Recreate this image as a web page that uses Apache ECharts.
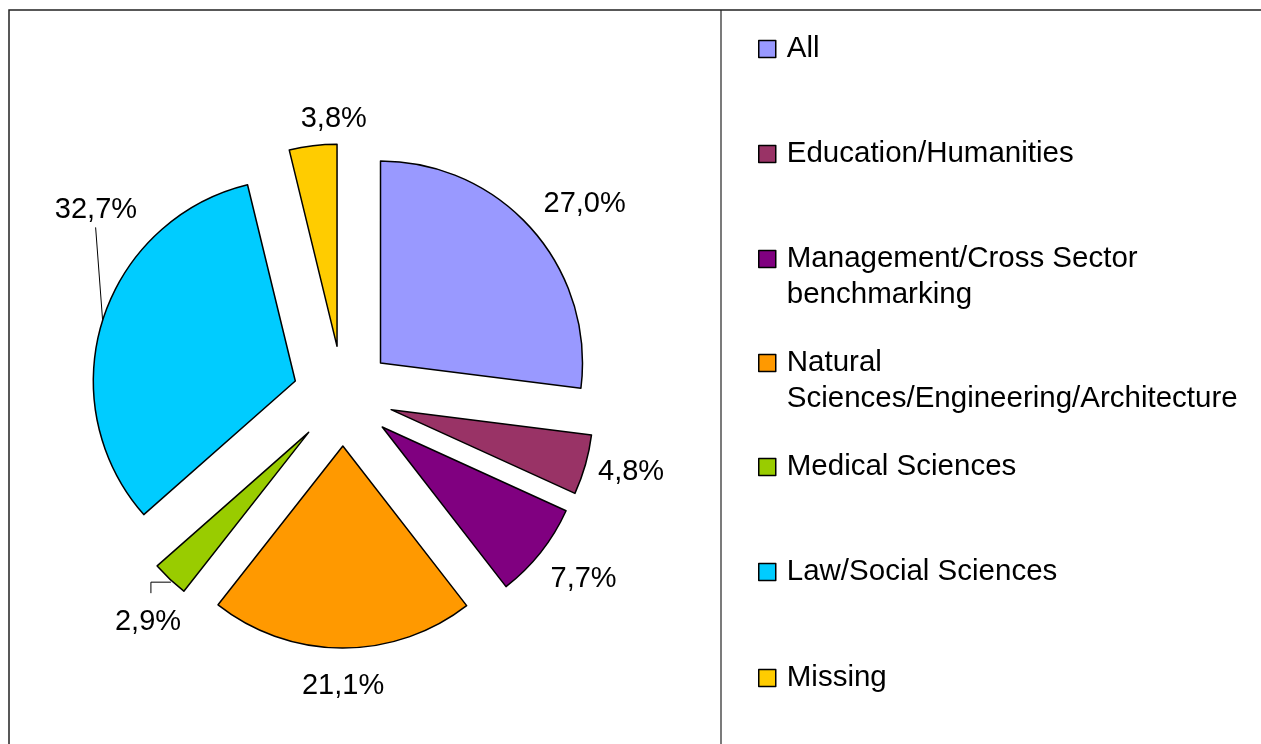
<!DOCTYPE html>
<html>
<head>
<meta charset="utf-8">
<title>Pie</title>
<script src="https://cdn.jsdelivr.net/npm/echarts@6/dist/echarts.min.js"></script>
<style>
  html, body { margin: 0; padding: 0; background: #fff; }
  #chart { width: 1261px; height: 744px; }
</style>
</head>
<body>
<div id="chart"></div>
<script>
// categories and shares (%)
const categories = [
  "All",
  "Education/Humanities",
  "Management/Cross Sector\nbenchmarking",
  "Natural\nSciences/Engineering/Architecture",
  "Medical Sciences",
  "Law/Social Sciences",
  "Missing",
];
const shares = [27.0, 4.8, 7.7, 21.1, 2.9, 32.7, 3.8];
const colors = ["#9999FF", "#993366", "#800080", "#FF9900", "#99CC00", "#00CCFF", "#FFCC00"];

// layout tweaks (label nudges, legend rows)
const labelDx = [-1, -2, -3, 47, 23, 49, 60];
const labelDy = [-19, 4, 20, 28, 36, -107, -17];
const leaderLines = { 4: [[1, 3], [-19, 3], [-19, 14]], 5: [[0, 0], [-7, -93]] };
const legendTops = [26, 131, 200, 304, 444, 549, 655];

const FONT = "Liberation Sans, Arial, sans-serif";
const myChart = echarts.init(document.getElementById("chart"));

const legends = categories.map(function (name, i) {
  return {
    data: [name],
    orient: "vertical",
    left: 753,
    top: legendTops[i],
    icon: "rect",
    itemWidth: 17,
    itemHeight: 17,
    selectedMode: false,
    // two-line names get a blank first line so the swatch sits beside line one
    formatter: function (n) {
      return n.indexOf("\n") >= 0 ? "\n" + n : n;
    },
    itemStyle: { borderColor: "#000", borderWidth: 1.5 },
    textStyle: {
      fontFamily: FONT,
      fontSize: 29.5,
      color: "#000",
      lineHeight: 36,
      padding: [0, 0, 0, 6],
    },
  };
});

myChart.setOption({
  animation: false,
  color: colors,
  legend: legends,
  graphic: [
    {
      type: "rect",
      shape: { x: 9, y: 10, width: 1400, height: 900 },
      style: { fill: "none", stroke: "#222", lineWidth: 1.5 },
      silent: true,
    },
    {
      type: "line",
      shape: { x1: 721, y1: 10, x2: 721, y2: 744 },
      style: { stroke: "#222", lineWidth: 1.2 },
      silent: true,
    },
  ],
  series: [
    {
      type: "pie",
      center: [343, 396],
      radius: 202,
      startAngle: 90,
      clockwise: true,
      selectedMode: "multiple",
      selectedOffset: 50,
      avoidLabelOverlap: false,
      emphasis: { disabled: true },
      itemStyle: { borderColor: "#000", borderWidth: 1.5 },
      label: {
        show: true,
        position: "outside",
        fontFamily: FONT,
        fontSize: 29,
        color: "#000",
        formatter: function (p) {
          return p.value.toFixed(1).replace(".", ",") + "%";
        },
      },
      labelLine: {
        show: false,
        length: 10,
        length2: 0,
        lineStyle: { color: "#000", width: 1 },
      },
      labelLayout: function (p) {
        const i = p.dataIndex;
        const out = { dx: labelDx[i], dy: labelDy[i] };
        const rel = leaderLines[i];
        if (rel && p.labelLinePoints) {
          const s = p.labelLinePoints[0];
          out.labelLinePoints = rel.map(function (d) {
            return [s[0] + d[0], s[1] + d[1]];
          });
        }
        return out;
      },
      data: categories.map(function (name, i) {
        return {
          name: name,
          value: shares[i],
          selected: true,
          labelLine: { show: !!leaderLines[i] },
        };
      }),
    },
  ],
});
window.addEventListener("resize", function () {
  myChart.resize();
});
</script>
</body>
</html>
